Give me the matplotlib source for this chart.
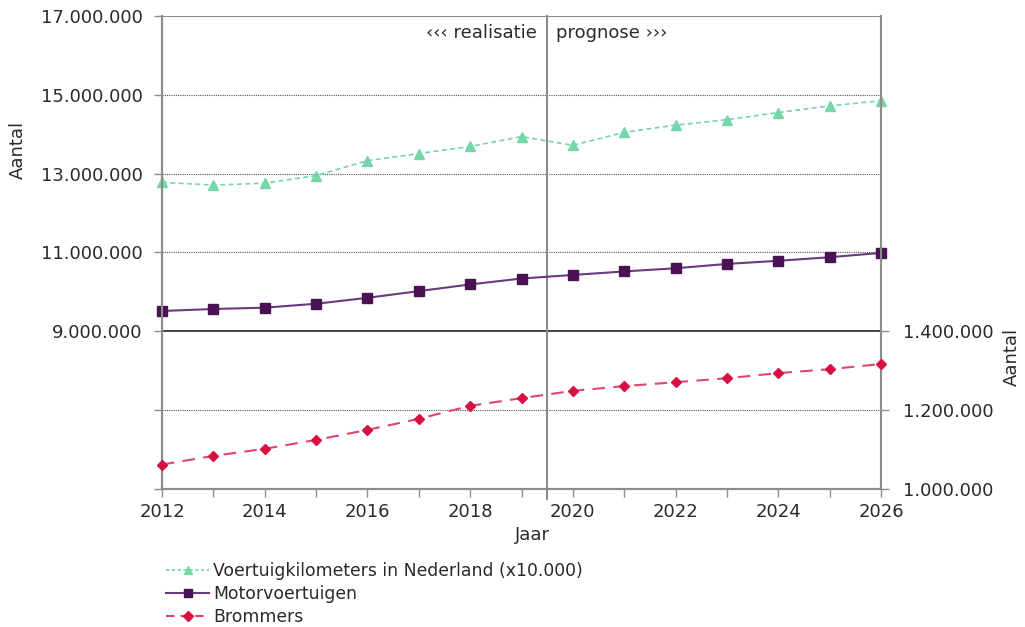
import matplotlib.pyplot as plt
import numpy as np
from matplotlib.ticker import FuncFormatter, FixedLocator
from matplotlib.lines import Line2D
import matplotlib.transforms as mtransforms

plt.rcParams['font.family'] = ['DejaVu Sans']

jaren = np.arange(2012, 2027)

# voertuigkilometers (x10.000)
voertuigkm = [12780000, 12710000, 12760000, 12950000, 13330000, 13510000, 13690000, 13940000,
              13720000, 14050000, 14230000, 14370000, 14550000, 14720000, 14850000]
motorvoertuigen = [9516000, 9567000, 9600000, 9700000, 9850000, 10020000, 10190000, 10340000,
                   10430000, 10520000, 10600000, 10710000, 10790000, 10880000, 10990000]
brommers = [1062000, 1084000, 1102000, 1124500, 1150000, 1178000, 1211000, 1230500,
            1249000, 1261000, 1271000, 1281000, 1294000, 1304000, 1317000]

left_ticks = [5000000, 7000000, 9000000, 11000000, 13000000, 15000000, 17000000]
right_ticks = [1000000, 1200000, 1400000]

c_groen = "#74d6aa"
c_paars_lijn = "#6a3a7c"
c_paars = "#4a1252"
c_rood = "#d5123f"
c_rood_lijn = "#e0456a"
c_tekst = "#2a2a2a"
c_as = "#8c8c8c"

def nl(v, pos=None):
    return f"{int(round(v)):,}".replace(",", ".")

fig = plt.figure(figsize=(10.25, 6.27), dpi=100)
fig.set_facecolor("white")
ax = fig.add_axes([162/1025, 1-489/627, (881-162)/1025, (489-16)/627])
ax2 = ax.twinx()

ax.set_xlim(2012, 2026)
ax.set_ylim(5000000, 17000000)
ax2.set_ylim(1000000, 2200000)

# grid
for t in [7000000, 11000000, 13000000, 15000000]:
    ax.axhline(t, color="#555555", linewidth=0.8, linestyle=(0, (1, 1)), zorder=1)
ax.axhline(9000000, color="#222222", linewidth=1.2, zorder=1)
ax.axhline(17000000, color=c_as, linewidth=1.5, zorder=1)
ax.plot([2019.5, 2019.5], [4750000, 17000000], color=c_as, linewidth=1.5, clip_on=False, zorder=1)

ax.plot(jaren, voertuigkm, color=c_groen, linestyle=(0, (3, 2)), linewidth=1.2,
        marker="^", markersize=7, clip_on=False, zorder=3)
ax.plot(jaren, motorvoertuigen, color=c_paars_lijn, linewidth=1.5,
        marker="s", markersize=7, markerfacecolor=c_paars, markeredgecolor=c_paars,
        clip_on=False, zorder=3)
ax2.plot(jaren, brommers, color=c_rood_lijn, linestyle=(0, (6, 4)), linewidth=1.5,
         marker="D", markersize=5.5, markerfacecolor=c_rood, markeredgecolor=c_rood,
         clip_on=False, zorder=3)

# assen
for a in (ax, ax2):
    for s in a.spines.values():
        s.set_color(c_as)
        s.set_linewidth(1.5)
    a.spines["top"].set_visible(False)

ax.yaxis.set_major_locator(FixedLocator(left_ticks))
ax.yaxis.set_major_formatter(FuncFormatter(lambda v, p: nl(v) if v >= 9000000 else ""))
ax2.yaxis.set_major_locator(FixedLocator(right_ticks))
ax2.yaxis.set_major_formatter(FuncFormatter(nl))

ax.set_xticks(jaren)
ax.set_xticklabels([str(j) if j % 2 == 0 else "" for j in jaren])

ax.tick_params(axis="both", direction="out", length=6, width=1, color=c_as,
               labelsize=13, labelcolor=c_tekst, pad=4)
ax2.tick_params(axis="y", direction="out", length=6, width=1, color=c_as,
                labelsize=13, labelcolor=c_tekst, pad=10)
ax.tick_params(axis="y", pad=8)

trans = mtransforms.blended_transform_factory(ax.transData, ax.transAxes)
ax.text(2019.5 - 0.2, 0.964, "\u2039\u2039\u2039 realisatie", transform=trans,
        ha="right", va="center", fontsize=13, color=c_tekst)
ax.text(2019.5 + 0.17, 0.964, "prognose \u203a\u203a\u203a", transform=trans,
        ha="left", va="center", fontsize=13, color=c_tekst)

fig.text(532/1025, 1-535/627, "Jaar", ha="center", va="center", fontsize=13, color=c_tekst)
fig.text(18/1025, 1-150/627, "Aantal", rotation=90, ha="center", va="center",
         fontsize=13, color=c_tekst)
fig.text(1012/1025, 1-357/627, "Aantal", rotation=90, ha="center", va="center",
         fontsize=13, color=c_tekst)

handles = [
    Line2D([], [], color=c_groen, linestyle=(0, (2, 1.5)), linewidth=1.2, marker="^", markersize=6),
    Line2D([], [], color=c_paars_lijn, linewidth=1.5, marker="s", markersize=6,
           markerfacecolor=c_paars, markeredgecolor=c_paars),
    Line2D([], [], color=c_rood_lijn, linestyle=(0, (4, 3)), linewidth=1.5, marker="D", markersize=5,
           markerfacecolor=c_rood, markeredgecolor=c_rood),
]
labels = ["Voertuigkilometers in Nederland (x10.000)", "Motorvoertuigen", "Brommers"]
leg = fig.legend(handles, labels, loc="upper left", bbox_to_anchor=(166/1025, 1-562/627),
                 frameon=False, fontsize=12.4, handlelength=2.5, handletextpad=0.25,
                 labelspacing=0.28, borderaxespad=0, borderpad=0)
for t in leg.get_texts():
    t.set_color(c_tekst)

plt.savefig("out.png", dpi=100, facecolor="white")
